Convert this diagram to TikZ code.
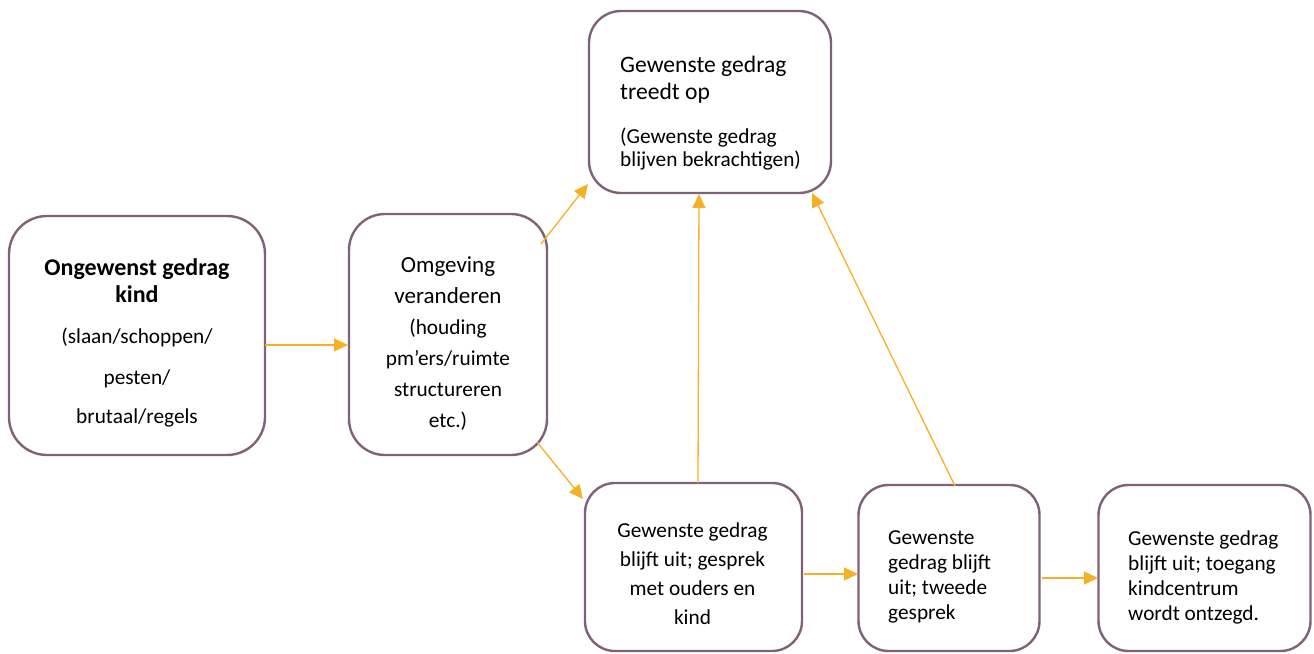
\documentclass[tikz,border=0pt]{standalone}
\usepackage{fontspec}
\setmainfont{Carlito}
\usetikzlibrary{arrows.meta}
\definecolor{boxline}{RGB}{128,98,120}
\definecolor{arrowc}{RGB}{245,176,38}
\begin{document}
\begin{tikzpicture}[x=1pt,y=-1pt,
  box/.style={draw=boxline, line width=2.4pt, rounded corners=#1, inner sep=0pt, fill=white},
  box/.default=32pt,
  txt/.style={anchor=base, inner sep=0pt, font=\fontsize{21.3}{#1}\selectfont},
  txt/.default=29,
  conn/.style={draw=arrowc, line width=1.3pt, -{Triangle[length=14pt,width=13pt]}}]
\useasboundingbox (0,0) rectangle (1314,653);
% boxes
\node[box=38pt, minimum width=256pt, minimum height=239pt] (b1) at (137,335.5) {};
\node[box=36pt, minimum width=198pt, minimum height=241pt] (b2) at (448,334.5) {};
\node[box=32pt, minimum width=242pt, minimum height=182pt] (b3) at (710,102) {};
\node[box=30pt, minimum width=217pt, minimum height=168pt] (b4) at (693.5,567) {};
\node[box=30pt, minimum width=181pt, minimum height=166pt] (b5) at (949,568) {};
\node[box=30pt, minimum width=212pt, minimum height=166pt] (b6) at (1204.5,568) {};
% texts
\node[txt=28] (t1) at (137,275) {\begin{tabular}[t]{@{}c@{}}\fontsize{24}{28}\selectfont\bfseries Ongewenst gedrag\\[-1pt]\fontsize{24}{28}\selectfont\bfseries kind\\[13pt]
  (slaan/schoppen/\\[13pt] pesten/\\[11pt] brutaal/regels\end{tabular}};
\node[txt=31] (t2) at (448,272) {\begin{tabular}[t]{@{}c@{}}\fontsize{23}{31}\selectfont Omgeving\\\fontsize{23}{31}\selectfont veranderen\\(houding\\pm’ers/ruimte\\structureren\\etc.)\end{tabular}};
\node[txt=27, anchor=base west] (t3) at (620,72) {\begin{tabular}[t]{@{}l@{}}\fontsize{23.6}{27}\selectfont Gewenste gedrag\\\fontsize{23.6}{27}\selectfont treedt op\\[17pt]
  (Gewenste gedrag\\[-4pt] blijven bekrachtigen)\end{tabular}};
\node[txt=29.3] (t4) at (692.5,537) {\begin{tabular}[t]{@{}c@{}}Gewenste gedrag\\blijft uit; gesprek\\met ouders en\\kind\end{tabular}};
\node[txt=25.3, anchor=base west] (t5) at (888,544) {\begin{tabular}[t]{@{}l@{}}Gewenste\\gedrag blijft\\uit; tweede\\gesprek\end{tabular}};
\node[txt=25, anchor=base west] (t6) at (1128,545) {\begin{tabular}[t]{@{}l@{}}Gewenste gedrag\\blijft uit; toegang\\kindcentrum\\wordt ontzegd.\end{tabular}};
% connector end points
\coordinate (a1s) at (265,345); \coordinate (a1e) at (348,345);
\coordinate (a2s) at (541,244); \coordinate (a2e) at (588,184);
\coordinate (a3s) at (537,442); \coordinate (a3e) at (583,499);
\coordinate (a4s) at (698,483); \coordinate (a4e) at (699,194);
\coordinate (a5s) at (955,486); \coordinate (a5e) at (812,193);
\coordinate (a6s) at (804,574); \coordinate (a6e) at (858,574);
\coordinate (a7s) at (1042,578); \coordinate (a7e) at (1098,578);
\draw[conn] (a1s) -- (a1e);
\draw[conn] (a2s) -- (a2e);
\draw[conn] (a3s) -- (a3e);
\draw[conn] (a4s) -- (a4e);
\draw[conn] (a5s) -- (a5e);
\draw[conn] (a6s) -- (a6e);
\draw[conn] (a7s) -- (a7e);
\end{tikzpicture}
\end{document}
